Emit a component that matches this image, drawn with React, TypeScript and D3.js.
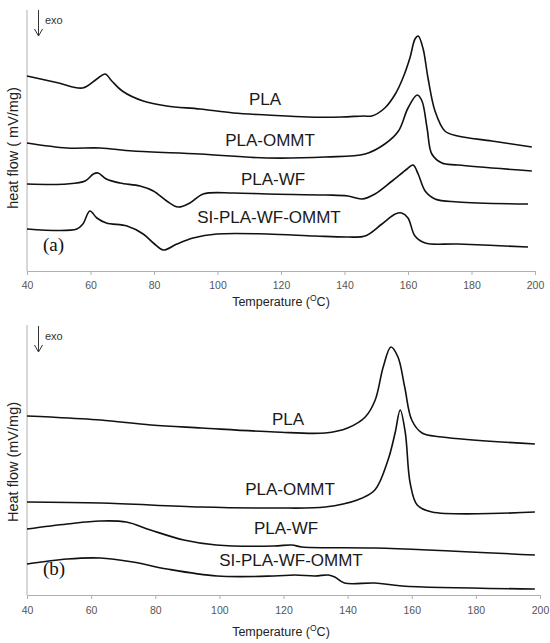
import { useEffect, useRef } from "react"
import { select, scaleLinear, axisBottom, line, curveCatmullRom } from "d3"

// temperatures (°C) and heat flow readings (arbitrary offset, mV/mg) for panel (a)
const tempA_PLA = [40, 50, 57.5, 62, 64.6, 66.7, 70, 76.6, 84, 94.5, 105, 115.6, 128.5, 139, 146, 148.6, 152.7, 156, 158.4, 160.6, 162.2, 163.2, 164.7, 166.3, 168.5, 171.6, 175.7, 186.4, 199]
const flowA_PLA = [195, 188, 183, 192, 197, 190, 180, 170, 165, 162, 158, 156, 154, 154, 155, 155, 163, 177, 193, 213, 232, 235, 223, 193, 160, 140, 135, 130, 124]

const tempA_OMMT = [40, 52.6, 63, 73.4, 94.5, 115.6, 134, 146.5, 152.7, 157, 160, 162.9, 164.4, 166, 167.5, 170.7, 175.7, 199]
const flowA_OMMT = [128, 123, 123, 120, 117, 113, 114, 117, 127, 140, 163, 176, 170, 143, 117, 108, 106, 100]

const tempA_WF = [40, 52.6, 58.3, 60.9, 62.4, 65, 69.3, 75.6, 79.8, 84, 87.6, 91.3, 95.5, 105, 115.6, 134, 141, 145.5, 149.6, 155, 159.7, 161.6, 163.2, 165.4, 168.5, 175.7, 197.8]
const flowA_WF = [87, 87, 90, 97, 98, 92, 88, 85, 80, 70, 64, 68, 77, 78, 77, 76, 75, 72, 77, 90, 102, 106, 97, 80, 72, 69, 67]

const tempA_SI = [40, 55.7, 57.6, 59.8, 62, 65, 71.5, 76.6, 79.8, 83, 87.2, 92.3, 99.8, 115.6, 130.7, 141, 146.5, 151.8, 156, 158, 160, 162.2, 165.4, 175.7, 197.8]
const flowA_SI = [42, 42, 47, 60, 53, 48, 45, 37, 28, 21, 27, 33, 37, 37, 35, 34, 35, 47, 57, 58, 53, 35, 28, 27, 24]

// panel (b)
const tempB_PLA = [40, 47.3, 63, 78.7, 94.5, 117.3, 133, 140, 145.5, 148.6, 151.1, 153.5, 155.7, 157.8, 160, 163.2, 169.4, 198.4]
const flowB_PLA = [179, 178, 175, 170, 167, 163, 162, 167, 178, 195, 228, 248, 238, 208, 175, 162, 158, 151]

const tempB_OMMT = [40, 63, 94, 117, 133, 143, 148.5, 152.6, 154.8, 156.4, 158, 159.5, 161.7, 166.3, 198.4]
const flowB_OMMT = [93, 92, 88, 87, 88, 95, 105, 135, 162, 185, 162, 112, 90, 83, 83]

const tempB_WF = [40, 52.5, 62.8, 71, 78.5, 88.9, 99, 117, 122.6, 125.8, 148.5, 198.4]
const flowB_WF = [66, 71, 74, 73, 65, 55, 50, 49, 50, 48, 47, 40]

const tempB_SI = [40, 52.5, 62.8, 73, 83.7, 99.3, 117, 123.6, 129.8, 134, 136, 139, 148.5, 157, 198.4]
const flowB_SI = [31, 36, 37, 33, 26, 19, 19, 20, 19, 20, 18, 12, 12, 9, 6]

const xTicks = [40, 60, 80, 100, 120, 140, 160, 180, 200]
const seriesNames = ["PLA", "PLA-OMMT", "PLA-WF", "SI-PLA-WF-OMMT"]

const panels = [
  {
    tag: "(a)", ylabel: "heat flow ( mV/mg)", x0: 27, x1: 535, top: 10, bottom: 271, ymax: 261,
    temps: [tempA_PLA, tempA_OMMT, tempA_WF, tempA_SI],
    flows: [flowA_PLA, flowA_OMMT, flowA_WF, flowA_SI],
    labels: [[265, 105], [270, 146], [273, 185], [269, 223]],
    ylabelY: 148, tickY: 289, titleY: 306, tagY: 251, exoY: 10,
  },
  {
    tag: "(b)", ylabel: "Heat flow (mV/mg)", x0: 27, x1: 540, top: 325, bottom: 595, ymax: 270,
    temps: [tempB_PLA, tempB_OMMT, tempB_WF, tempB_SI],
    flows: [flowB_PLA, flowB_OMMT, flowB_WF, flowB_SI],
    labels: [[288, 425], [290, 495], [286, 534], [291, 566]],
    ylabelY: 462, tickY: 614, titleY: 636, tagY: 575, exoY: 326,
  },
]

const App = () => {
  const svgRef = useRef<SVGSVGElement>(null)

  useEffect(() => {
    const svg = select(svgRef.current)
    svg.selectAll("*").remove()
    const font = "'Liberation Sans', Arial, sans-serif"

    panels.forEach(p => {
      const g = svg.append("g")
      const xScale = scaleLinear().domain([40, 200]).range([p.x0, p.x1])
      const yScale = scaleLinear().domain([0, p.ymax]).range([p.bottom, p.top])

      // y axis line only
      g.append("line")
        .attr("x1", p.x0).attr("x2", p.x0)
        .attr("y1", p.top).attr("y2", p.bottom)
        .attr("stroke", "#b0b0b0")

      const xAxis = axisBottom(xScale).tickValues(xTicks).tickSize(4).tickSizeOuter(0).tickPadding(8)
      const ax = g.append("g").attr("transform", "translate(0," + p.bottom + ")").call(xAxis)
      ax.select(".domain").attr("stroke", "#b0b0b0")
      ax.selectAll(".tick line").attr("stroke", "#b0b0b0")
      ax.selectAll(".tick text")
        .attr("font-family", font).attr("font-size", 10.5).attr("fill", "#555")
        .attr("y", p.tickY - p.bottom).attr("dy", 0)

      const title = g.append("text")
        .attr("x", 281).attr("y", p.titleY)
        .attr("text-anchor", "middle")
        .attr("font-family", font).attr("font-size", 12.5).attr("fill", "#222")
      title.append("tspan").text("Temperature (")
      title.append("tspan").attr("font-size", 8.5).attr("dy", -5).text("O")
      title.append("tspan").attr("dy", 5).text("C)")

      g.append("text")
        .attr("transform", "translate(18," + p.ylabelY + ") rotate(-90)")
        .attr("text-anchor", "middle")
        .attr("font-family", font).attr("font-size", 14.5).attr("fill", "#222")
        .text(p.ylabel)

      // exo arrow
      g.append("line")
        .attr("x1", 38.5).attr("x2", 38.5)
        .attr("y1", p.exoY).attr("y2", p.exoY + 25)
        .attr("stroke", "#333").attr("stroke-width", 1)
      g.append("path")
        .attr("d", `M34.5,${p.exoY + 19} L38.5,${p.exoY + 26} L42.5,${p.exoY + 19}`)
        .attr("fill", "none").attr("stroke", "#333").attr("stroke-width", 1)
      g.append("text")
        .attr("x", 45).attr("y", p.exoY + 14)
        .attr("font-family", font).attr("font-size", 11).attr("fill", "#333")
        .text("exo")

      g.append("text")
        .attr("x", 43).attr("y", p.tagY)
        .attr("font-family", "'Liberation Serif', 'Times New Roman', serif")
        .attr("font-size", 19).attr("fill", "#111")
        .text(p.tag)

      const myLine = line<[number, number]>()
        .x(d => xScale(d[0]))
        .y(d => yScale(d[1]))
        .curve(curveCatmullRom.alpha(0.5))

      const rows = p.temps.map((ts, i) => ts.map((t, j) => [t, p.flows[i][j]] as [number, number]))
      g.selectAll(".curve")
        .data(rows)
        .join("path")
        .attr("class", "curve")
        .attr("d", myLine)
        .attr("fill", "none")
        .attr("stroke", "#111")
        .attr("stroke-width", 1.6)

      g.selectAll(".lbl")
        .data(seriesNames)
        .join("text")
        .attr("class", "lbl")
        .attr("x", (d, i) => p.labels[i][0])
        .attr("y", (d, i) => p.labels[i][1])
        .attr("text-anchor", "middle")
        .attr("font-family", font).attr("font-size", 17).attr("fill", "#1a1a1a")
        .text(d => d)
    })
  }, [])

  return (
    <svg ref={svgRef} width={550} height={643}
      style={{ position: "absolute", left: 0, top: 0, background: "#fff" }} />
  )
}

export default App
